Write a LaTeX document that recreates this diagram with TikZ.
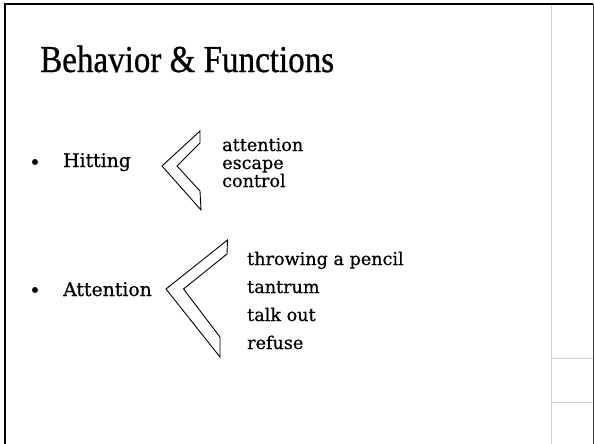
\documentclass[tikz,border=0pt]{standalone}
\usepackage{fontspec}
\usepackage{graphicx}
\setmainfont{DejaVu Serif}[FakeBold=0.6]
\newfontfamily\titlefont{Liberation Serif}[FakeBold=0.8]
\usepackage{tikz}

\begin{document}
\begin{tikzpicture}[
      x=1pt, y=1pt,
      item/.style = {anchor=base west, inner sep=0pt, font=\fontsize{18.8}{18.8}\selectfont},
      reason/.style = {item, font=\fontsize{17.6}{17.6}\selectfont},
      dot/.style = {circle, fill=black, inner sep=0pt, minimum size=6pt},
      chevron/.style = {draw, line width=0.9pt, line join=miter},
      rule/.style = {draw=black!18, line width=0.8pt}
    ]
    \useasboundingbox (0,0) rectangle (594,-444);

    % slide frame
    \draw[line width=2pt] (5,-444) -- (5,-4) -- (593,-4);
    \draw[black!75, line width=1pt] (593,-4) -- (593,-444);

    % side panel
    \draw[rule] (551.5,-5) -- (551.5,-444);
    \draw[rule] (551.5,-358) -- (593,-358);
    \draw[rule] (551.5,-402) -- (593,-402);

    \node[anchor=base west, inner sep=0pt, font=\titlefont\fontsize{38}{38}\selectfont]
      (title) at (40,-72) {\scalebox{0.87}[1]{Behavior \& Functions}};

    % first bullet
    \node[dot] (b1) at (35,-162) {};
    \node[item] (hitting) at (63,-167) {Hitting};
    \draw[chevron] (162,-166) -- (200,-131) -- (200,-143) -- (177,-166)
      -- (200,-191) -- (201,-210) -- cycle;
    \foreach \t [count=\i] in {attention,escape,control}{
      \node[reason] (hit\i) at (222,{-151-18*(\i-1)}) {\t};
    }

    % second bullet
    \node[dot] (b2) at (35,-290) {};
    \node[item] (attn) at (63,-296) {Attention};
    \draw[chevron] (166,-289) -- (227.5,-240) -- (227,-254) -- (183.5,-289)
      -- (220,-337) -- (220,-357) -- cycle;
    \foreach \t [count=\i] in {throwing a pencil,tantrum,talk out,refuse}{
      \node[reason] (att\i) at (247,{-265-28*(\i-1)}) {\t};
    }
  \end{tikzpicture}
\end{document}
